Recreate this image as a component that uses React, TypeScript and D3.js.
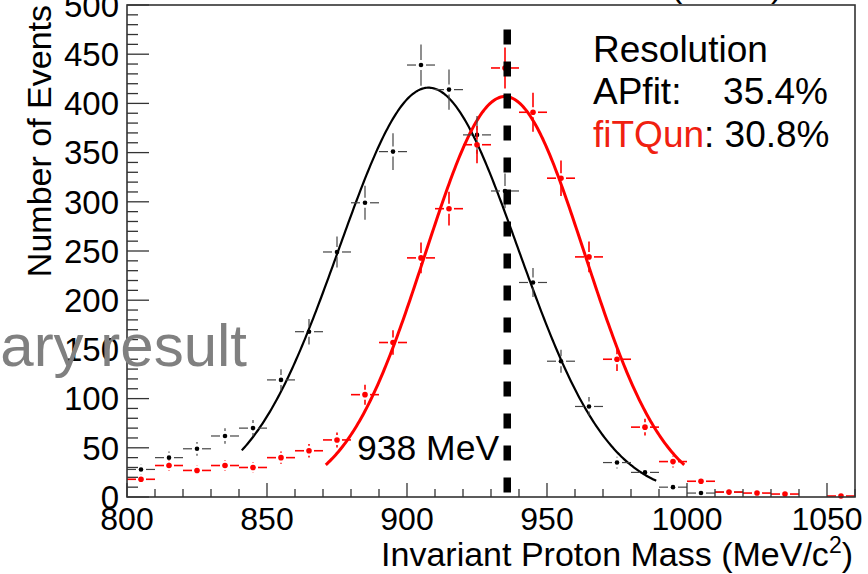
import React from 'react';
import * as d3 from 'd3';

const W = 868;
const H = 574;

// axis ranges / ticks
const xDomain = [800, 1060];
const yDomain = [0, 500];
const xMajorTicks = [800, 850, 900, 950, 1000, 1050];
const yMajorTicks = [0, 50, 100, 150, 200, 250, 300, 350, 400, 450, 500];
const binWidth = 10;

// APfit (black) histogram
const apfitMass = [805, 815, 825, 835, 845, 855, 865, 875, 885, 895, 905, 915, 925, 935, 945, 955, 965, 975, 985, 995, 1005, 1015];
const apfitEvents = [28, 40, 49, 62, 70, 119, 168, 249, 299, 351, 439, 414, 368, 311, 218, 138, 92, 35, 25, 10, 4, 5];

// fiTQun (red) histogram
const fitqunMass = [805, 815, 825, 835, 845, 855, 865, 875, 885, 895, 905, 915, 925, 935, 945, 955, 965, 975, 985, 995, 1005, 1015, 1025, 1035, 1055];
const fitqunEvents = [18, 32, 27, 32, 30, 40, 47, 58, 104, 157, 243, 293, 358, 436, 391, 324, 244, 140, 71, 36, 16, 5, 4, 3, 1];

// Gaussian fits: [amplitude, mean, sigma], drawn range [from, to]
const apfitFit = [416, 907.7, 32];
const apfitFitRange = [841, 989];
const fitqunFit = [407, 935, 28.5];
const fitqunFitRange = [871, 999];

// proton mass marker
const protonLineMass = 935.8;
const protonLineTop = 475;
const protonLabel = '938 MeV';

const FONT = '"Liberation Sans", Arial, Helvetica, sans-serif';
const RED = '#ff0000';

const x = d3.scaleLinear().domain(xDomain).range([127, 855]);
const y = d3.scaleLinear().domain(yDomain).range([497, 5]);

function gaussPath(p: number[], range: number[]) {
  const [a, m, s] = p;
  const pts = d3.range(range[0], range[1] + 0.001, 0.5).map((v) => [v, a * Math.exp(-((v - m) ** 2) / (2 * s * s))]);
  return d3.line<number[]>().x((d) => x(d[0])).y((d) => y(d[1]))(pts) || '';
}

function ErrorPoints({ mass, events, color, barColor, r, sw }: any) {
  const g = 5;
  return (
    <g>
      {mass.map((m: number, i: number) => {
        const v = events[i];
        const cx = x(m);
        const cy = y(v);
        const e = Math.sqrt(v);
        const yTop = y(v + e);
        const yBot = y(Math.max(0, v - e));
        const x0 = x(m - binWidth / 2);
        const x1 = x(m + binWidth / 2);
        const segs: number[][] = [];
        if (cx - g > x0) segs.push([x0, cy, cx - g, cy]);
        if (x1 > cx + g) segs.push([cx + g, cy, x1, cy]);
        if (cy - g > yTop) segs.push([cx, yTop, cx, cy - g]);
        if (yBot > cy + g) segs.push([cx, cy + g, cx, yBot]);
        return (
          <g key={i}>
            {segs.map((s, j) => (
              <line key={j} x1={s[0]} y1={s[1]} x2={s[2]} y2={s[3]} stroke={barColor} strokeWidth={sw} />
            ))}
            <circle cx={cx} cy={cy} r={r} fill={color} />
          </g>
        );
      })}
    </g>
  );
}

export default function App() {
  const yMinor = d3.range(0, 501, 10);
  const xMinor = d3.range(800, 1061, 10);
  return (
    <svg width={W} height={H} style={{ position: 'absolute', left: 0, top: 0, background: '#fff' }} fontFamily={FONT}>
      <rect x={0} y={0} width={W} height={H} fill="#fff" />
      {/* title cut at top */}
      <text x={671} y={-3} fontSize={34} fill="#000">(SK-IV)</text>

      {/* fit curves */}
      <path d={gaussPath(apfitFit, apfitFitRange)} fill="none" stroke="#000" strokeWidth={2.2} />
      <path d={gaussPath(fitqunFit, fitqunFitRange)} fill="none" stroke={RED} strokeWidth={3} />

      {/* data points */}
      <ErrorPoints mass={apfitMass} events={apfitEvents} color="#000" barColor="#444" r={2.3} sw={1.2} />
      <ErrorPoints mass={fitqunMass} events={fitqunEvents} color={RED} barColor={RED} r={2.8} sw={1.6} />

      {/* dashed proton mass line */}
      <line x1={x(protonLineMass)} x2={x(protonLineMass)} y1={y(protonLineTop)} y2={y(0)} stroke="#000" strokeWidth={7.5} strokeDasharray="15 17" />

      {/* frame */}
      <rect x={x(800)} y={y(500)} width={x(1060) - x(800)} height={y(0) - y(500)} fill="none" stroke="#333" strokeWidth={1.6} />

      {/* y axis ticks */}
      {yMinor.map((v) => (
        <line key={'ym' + v} x1={x(800)} x2={x(800) + (v % 50 === 0 ? 22 : 11)} y1={y(v)} y2={y(v)} stroke="#333" strokeWidth={1.3} />
      ))}
      {yMajorTicks.map((v) => (
        <text key={'yl' + v} x={119} y={y(v)} dy="0.36em" textAnchor="end" fontSize={33} fill="#000">{v}</text>
      ))}
      {/* x axis ticks */}
      {xMinor.map((v) => (
        <line key={'xm' + v} x1={x(v)} x2={x(v)} y1={y(0)} y2={y(0) - ((v % 50 === 0) ? 14 : 8)} stroke="#333" strokeWidth={1.3} />
      ))}
      {xMajorTicks.map((v) => (
        <text key={'xl' + v} x={x(v)} y={530} textAnchor="middle" fontSize={32} fill="#000">{v}</text>
      ))}

      {/* axis titles */}
      <text x={853} y={566} textAnchor="end" fontSize={34} fill="#000">
        Invariant Proton Mass (MeV/c<tspan dy={-13} fontSize={23}>2</tspan><tspan dy={13}>)</tspan>
      </text>
      <text transform="translate(51,5) rotate(-90)" textAnchor="end" fontSize={34} fill="#000">Number of Events</text>

      {/* annotations */}
      <text x={357} y={460} fontSize={35.5} fill="#000">{protonLabel}</text>
      <text x={593} y={62} fontSize={37} fill="#000">Resolution</text>
      <text x={593} y={104} fontSize={37} fill="#000">APfit:</text>
      <text x={828} y={104} textAnchor="end" fontSize={37} fill="#000">35.4%</text>
      <text x={593} y={147} fontSize={37} fill="#000">
        <tspan fill="#f02010">fiTQun</tspan>: 30.8%
      </text>

      <text x={247} y={366} textAnchor="end" fontSize={60} fill="#808080">Preliminary result</text>
    </svg>
  );
}
